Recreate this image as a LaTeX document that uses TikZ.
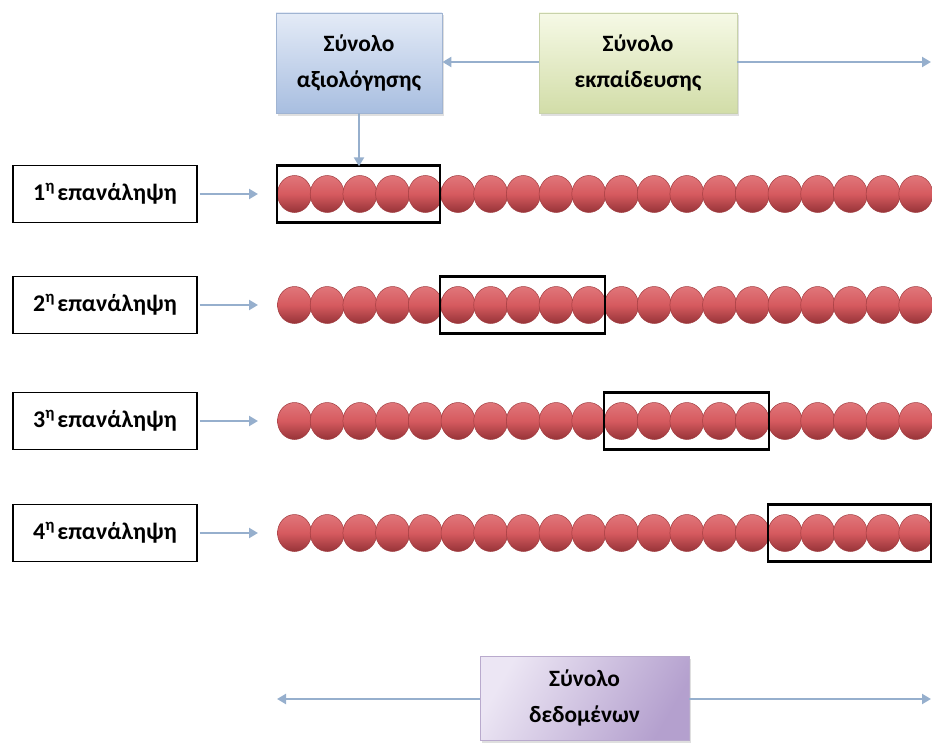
\documentclass[tikz,border=0pt]{standalone}
\usepackage{fontspec}
\setmainfont{Carlito}
\usetikzlibrary{arrows.meta,shadows}
\definecolor{arrowc}{RGB}{150,175,205}
\definecolor{blueT}{RGB}{228,235,247}
\definecolor{blueB}{RGB}{168,190,224}
\definecolor{blueD}{RGB}{160,180,210}
\definecolor{greenT}{RGB}{246,249,230}
\definecolor{greenB}{RGB}{210,221,168}
\definecolor{greenD}{RGB}{200,210,170}
\definecolor{purpL}{RGB}{236,230,244}
\definecolor{purpR}{RGB}{180,160,206}
\definecolor{purpD}{RGB}{185,170,205}
\definecolor{ballT}{RGB}{224,118,122}
\definecolor{ballM}{RGB}{214,90,95}
\definecolor{ballB}{RGB}{150,52,56}
\definecolor{ballE}{RGB}{160,60,64}
\begin{document}
\begin{tikzpicture}[x=1bp,y=-1bp,
  lbl/.style={draw=black, line width=1.3bp, fill=white, minimum width=184bp, minimum height=57bp,
    inner sep=0pt, font=\bfseries\fontsize{24}{26}\selectfont},
  win/.style={draw=black, line width=2.4bp, minimum height=57bp, inner sep=0pt},
  conn/.style={draw=arrowc, line width=2.2bp, -{Triangle[length=9bp,width=10bp]}},
  setbox/.style={align=center, inner sep=0pt, line width=0.8bp,
    font=\bfseries\fontsize{23.5}{36}\selectfont,
    drop shadow={shadow xshift=1.5bp, shadow yshift=-2.5bp, opacity=0.25}},
  bead/.style={top color=ballT, bottom color=ballB, middle color=ballM, draw=ballE, line width=0.5bp}
]
\useasboundingbox (0,0) rectangle (932,744);

% top boxes
\node[setbox, draw=blueD, top color=blueT, bottom color=blueB,
  minimum width=166bp, minimum height=100bp] (aval) at (359,63) {Σύνολο\\αξιολόγησης};
\node[setbox, draw=greenD, top color=greenT, bottom color=greenB,
  minimum width=198bp, minimum height=100bp] (train) at (638,63) {Σύνολο\\εκπαίδευσης};
% bottom box
\node[setbox, draw=purpD, shading=axis, left color=purpL, right color=purpR, shading angle=60,
  minimum width=209bp, minimum height=84bp] (data) at (584.5,698) {Σύνολο\\δεδομένων};

% beads
\foreach \r/\y in {1/194,2/305,3/421,4/533}{
  \foreach \i in {0,...,19}{
    \shade[bead] ({294.5+32.7*\i},\y) ellipse [x radius=17, y radius=18.5];
  }
}

% windows
\node[win, minimum width=163bp] (w1) at (358.5,194) {};
\node[win, minimum width=165bp] (w2) at (522.5,305) {};
\node[win, minimum width=165bp] (w3) at (686.5,421) {};
\node[win, minimum width=163bp] (w4) at (849.5,533) {};

% iteration labels
\node[lbl] (l1) at (105,194) {1\textsuperscript{η}\hspace{0.1em}επανάληψη};
\node[lbl] (l2) at (105,305) {2\textsuperscript{η}\hspace{0.1em}επανάληψη};
\node[lbl] (l3) at (105,421) {3\textsuperscript{η}\hspace{0.1em}επανάληψη};
\node[lbl] (l4) at (105,533) {4\textsuperscript{η}\hspace{0.1em}επανάληψη};

\coordinate (e1) at (258,194);
\coordinate (e2) at (258,305);
\coordinate (e3) at (258,421);
\coordinate (e4) at (258,533);
\foreach \k in {1,2,3,4}{
  \draw[conn] ([xshift=2bp]l\k.east) -- (e\k);
}

% top connectors
\coordinate (tr) at (931,62);
\draw[conn] (train.west |- 0,62) -- (aval.east |- 0,62);
\draw[conn] (train.east |- 0,62) -- (tr);
\draw[conn] (aval.south) -- ([yshift=-2bp]aval.south |- w1.north);

% bottom connectors
\coordinate (dl) at (277,699);
\coordinate (dr) at (931,699);
\draw[conn] (data.west |- 0,699) -- (dl);
\draw[conn] (data.east |- 0,699) -- (dr);
\end{tikzpicture}
\end{document}
